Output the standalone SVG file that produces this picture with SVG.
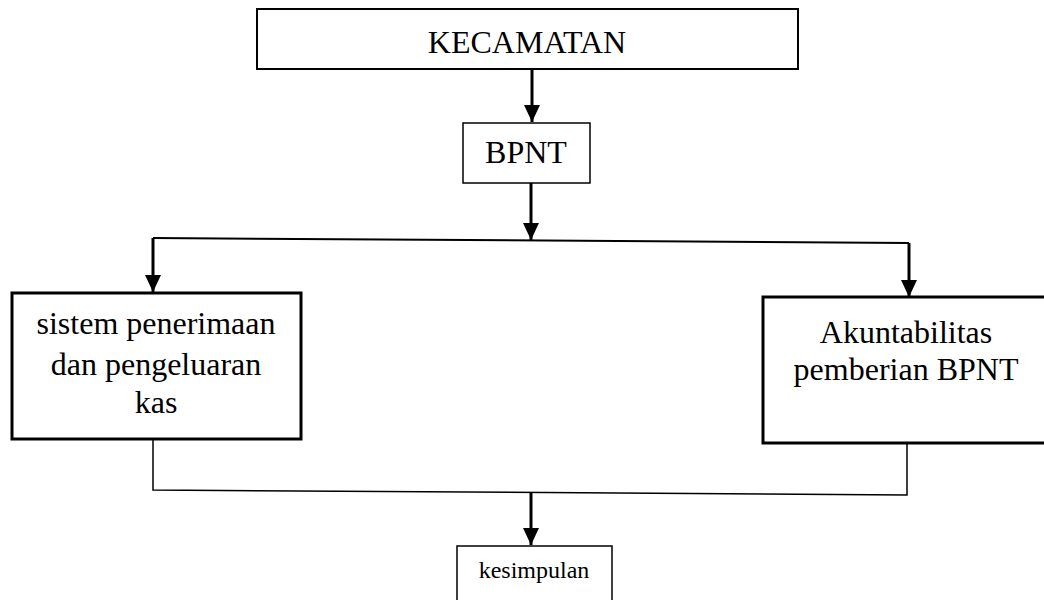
<svg xmlns="http://www.w3.org/2000/svg" width="1044" height="600" viewBox="0 0 1044 600">
<style>
.box{fill:#fff;stroke:#000}
.t{font-family:"Liberation Serif","Times New Roman",serif;fill:#000;text-anchor:middle}
.c{stroke:#000;fill:none}
.a{stroke:#000;stroke-width:3;fill:none;marker-end:url(#ah)}
</style>
<defs>
<marker id="ah" markerUnits="userSpaceOnUse" markerWidth="18" markerHeight="18" viewBox="0 0 18 16" refX="17" refY="8" orient="auto">
<path d="M0,0 L17,8 L0,16 Z" fill="#000"/>
</marker>
</defs>
<g id="n-kecamatan"><rect class="box" x="257" y="9" width="541" height="60" stroke-width="2"/><text class="t" x="527" y="53" font-size="32">KECAMATAN</text></g>
<g id="n-bpnt"><rect class="box" x="463" y="123" width="127" height="60" stroke-width="1.5"/><text class="t" x="526" y="163" font-size="32">BPNT</text></g>
<g id="n-sistem"><rect class="box" x="12" y="293" width="289" height="146" stroke-width="3"/><text class="t" font-size="32"><tspan x="156" y="334">sistem penerimaan</tspan><tspan x="156" y="375">dan pengeluaran</tspan><tspan x="156" y="413">kas</tspan></text></g>
<g id="n-akuntabilitas"><rect class="box" x="763" y="297" width="290" height="146" stroke-width="3"/><text class="t" font-size="32"><tspan x="906" y="343">Akuntabilitas</tspan><tspan x="906" y="380">pemberian BPNT</tspan></text></g>
<g id="n-kesimpulan"><rect class="box" x="457" y="546" width="155" height="70" stroke-width="1.5"/><text class="t" x="534" y="578" font-size="24">kesimpulan</text></g>
<g id="connectors">
<line class="a" x1="532" y1="69" x2="532" y2="122"/>
<line class="a" x1="531" y1="183" x2="531" y2="240"/>
<line class="c" x1="153" y1="238" x2="909" y2="243" stroke-width="2"/>
<line class="a" x1="153" y1="238" x2="153" y2="292"/>
<line class="a" x1="909" y1="243" x2="909" y2="297"/>
<polyline class="c" points="153,440 153,490 907,495 907,444" stroke-width="1.5"/>
<line class="a" x1="531" y1="492" x2="531" y2="545"/>
</g>
</svg>
